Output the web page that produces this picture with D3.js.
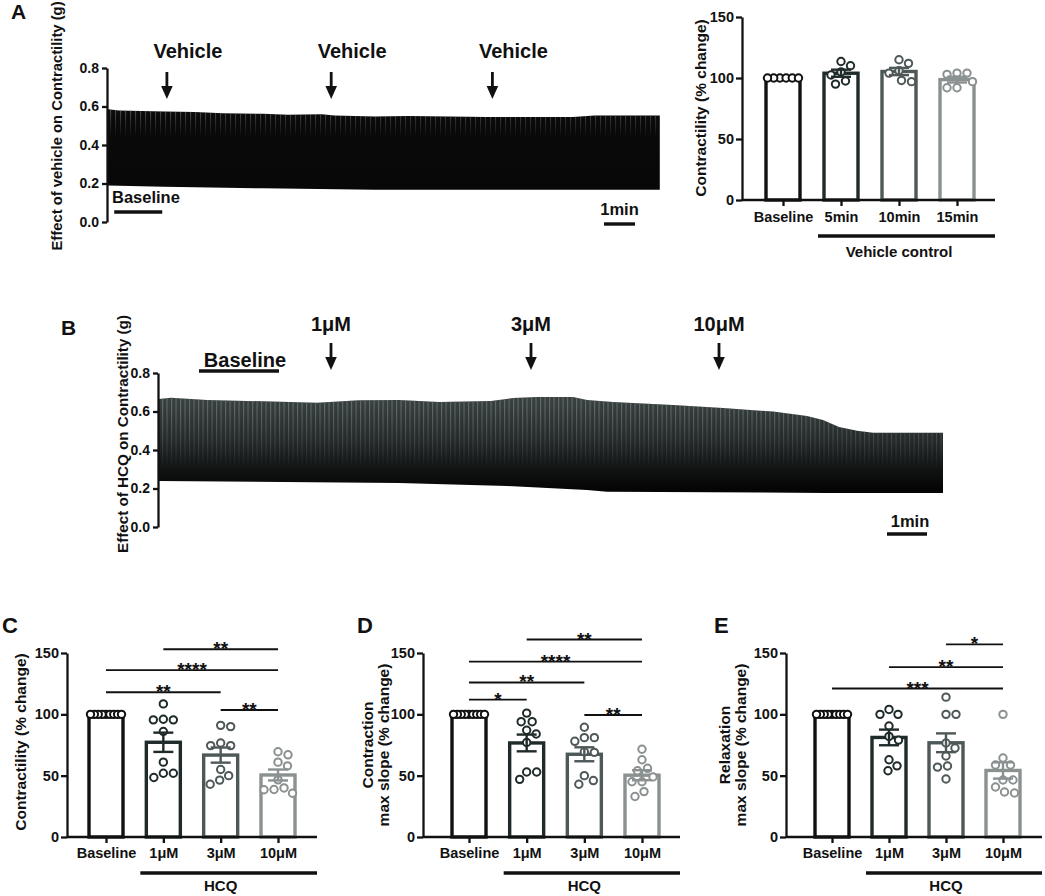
<!DOCTYPE html>
<html>
<head>
<meta charset="utf-8">
<script src="https://cdn.jsdelivr.net/npm/d3@7"></script>
<style>
  body { margin: 0; background: #fff; }
  svg text { font-family: "Liberation Sans", Arial, sans-serif; font-weight: bold; fill: #111; }
</style>
</head>
<body>
<svg id="fig" width="1045" height="896"></svg>
<script>
// ---------- data ----------
// A, vehicle recording: envelope of the twitches (g) against time (min)
const vehTopTime = [0, 0.35, 1.8, 2.8, 3.7, 5.0, 5.8, 6.9, 7.3, 8.6, 9.7, 12.2, 15.0, 15.7, 17.8];
const vehTop = [0.586, 0.579, 0.574, 0.571, 0.565, 0.562, 0.557, 0.56, 0.553, 0.548, 0.551, 0.545, 0.545, 0.553, 0.553];
const vehBotTime = [0, 1.8, 5.0, 8.6, 17.8];
const vehBot = [0.19, 0.183, 0.175, 0.167, 0.167];
const vehLabels = ["Vehicle", "Vehicle", "Vehicle"];
const vehAt = [1.9, 7.2, 12.4];
const vehBaseline = [0.2, 1.75];
const vehMinute = [16, 17];

// B, HCQ recording
const hcqTopTime = [0, 0.3, 1.2, 2.2, 3.95, 5.0, 6.0, 7.0, 8.3, 8.85, 9.45, 10.35, 10.7, 11.35, 12.85, 14.1, 15.35, 16.2, 16.6, 17.0, 17.45, 17.85, 19.6];
const hcqTop = [0.665, 0.672, 0.66, 0.655, 0.645, 0.658, 0.66, 0.649, 0.655, 0.67, 0.675, 0.675, 0.66, 0.649, 0.634, 0.618, 0.6, 0.577, 0.556, 0.52, 0.5, 0.49, 0.49];
const hcqBotTime = [0, 6.0, 8.7, 10.7, 11.2, 16.7, 19.6];
const hcqBot = [0.239, 0.228, 0.213, 0.192, 0.183, 0.177, 0.177];
const doseLabels = ["1\u03bcM", "3\u03bcM", "10\u03bcM"];
const doseAt = [4.3, 9.3, 14.0];
const hcqBaseline = [1.0, 3.0];
const hcqMinute = [18.2, 19.2];

const traceTicks = [0, 0.2, 0.4, 0.6, 0.8];

// bar panels (% change)
const vehCats = ["Baseline", "5min", "10min", "15min"];
const vehPts = [
  [100, 100, 100, 100, 100, 100],
  [110, 113.5, 102.5, 105, 95, 97.5],
  [112, 115, 106, 104, 97, 98],
  [104, 104, 103, 97, 92, 92]
];
const hcqCats = ["Baseline", "1\u03bcM", "3\u03bcM", "10\u03bcM"];
const contractPts = [
  [100, 100, 100, 100, 100, 100, 100, 100, 100],
  [108.5, 96, 95.5, 95.5, 86, 61, 48.5, 52, 52],
  [90, 91, 74.5, 74.5, 76.6, 55, 43, 50, 46.4],
  [69.5, 67, 61, 58, 46.6, 40, 35.7, 38.7, 38.5]
];
const contractSlopePts = [
  [100, 100, 100, 100, 100, 100, 100, 100, 100],
  [101, 94, 94, 87, 84, 77, 53, 53, 47],
  [89.5, 78, 81, 81, 69.5, 69, 43, 50, 46],
  [71.5, 63, 56, 54, 49, 45, 45, 33, 37]
];
const relaxSlopePts = [
  [100, 100, 100, 100, 100, 100, 100, 100, 100],
  [100, 104, 100, 90.5, 82, 79, 63, 54, 58],
  [114, 100, 100, 76.6, 72.5, 66, 57.9, 57, 47.3],
  [100, 64.4, 58.7, 58.7, 46.5, 46.5, 40.8, 35.9, 36.7]
];
const barTicks = [0, 50, 100, 150];

// significance: [from, to, level (% change), stars]
const sigC = [["1\u03bcM", "10\u03bcM", 153, "**"], ["Baseline", "10\u03bcM", 136, "****"], ["Baseline", "3\u03bcM", 118, "**"], ["3\u03bcM", "10\u03bcM", 103.5, "**"]];
const sigD = [["1\u03bcM", "10\u03bcM", 161, "**"], ["Baseline", "10\u03bcM", 143, "****"], ["Baseline", "3\u03bcM", 126, "**"], ["Baseline", "1\u03bcM", 112, "*"], ["3\u03bcM", "10\u03bcM", 99.5, "**"]];
const sigE = [["3\u03bcM", "10\u03bcM", 157, "*"], ["1\u03bcM", "10\u03bcM", 138.5, "**"], ["Baseline", "10\u03bcM", 121, "***"]];

const cols = ["#111111", "#1f2b2a", "#4f5858", "#8b9090"];
const FONT = '"Liberation Sans", Arial, sans-serif';

const svg = d3.select("#fig");
const defs = svg.append("defs");

function styleAxis(sel, fs) {
  sel.attr("font-family", FONT).attr("font-weight", "bold").attr("font-size", fs);
  sel.select(".domain").attr("stroke", "#111").attr("stroke-width", 2.3);
  sel.selectAll(".tick line").attr("stroke", "#111").attr("stroke-width", 2.3);
  sel.selectAll(".tick text").attr("fill", "#111");
}

function arrow(g, ax, y0, y1, y2) {
  g.append("line").attr("x1", ax).attr("x2", ax).attr("y1", y0).attr("y2", y1 + 1)
    .attr("stroke", "#111").attr("stroke-width", 2.8);
  g.append("path").attr("d", `M${ax - 5.8},${y1}L${ax + 5.8},${y1}L${ax},${y2}Z`).attr("fill", "#111");
}

// ---------- trace panels ----------
function tracePanel(o) {
  const g = svg.append("g");
  const tEnd = o.topTime[o.topTime.length - 1];
  const x = d3.scaleLinear().domain([0, tEnd]).range([o.x0, o.x0 + tEnd * o.pxMin]);
  const y = d3.scaleLinear().domain([0, 0.8]).range([o.yZero, o.yTop]);

  const outline = o.topTime.map((t, i) => [x(t), y(o.top[i])])
    .concat(o.botTime.map((t, i) => [x(t), y(o.bot[i])]).reverse());
  const d = d3.line()(outline) + "Z";

  // fill gradient
  const gr = defs.append("linearGradient").attr("id", o.id + "fill")
    .attr("gradientUnits", "userSpaceOnUse").attr("x1", 0).attr("x2", 0)
    .attr("y1", y(0.66)).attr("y2", y(0.2));
  o.fillStops.forEach(s => gr.append("stop").attr("offset", s[0]).attr("stop-color", s[1]));

  // vertical twitch streaks
  const pat = defs.append("pattern").attr("id", o.id + "pat").attr("patternUnits", "userSpaceOnUse")
    .attr("width", o.step).attr("height", 10);
  pat.append("rect").attr("width", 1.1).attr("height", 10).attr("fill", o.streak);
  const mg = defs.append("linearGradient").attr("id", o.id + "mg")
    .attr("gradientUnits", "userSpaceOnUse").attr("x1", 0).attr("x2", 0)
    .attr("y1", y(o.streakFrom)).attr("y2", y(o.streakTo));
  mg.append("stop").attr("offset", 0).attr("stop-color", "#fff").attr("stop-opacity", o.streakOp);
  mg.append("stop").attr("offset", 1).attr("stop-color", "#fff").attr("stop-opacity", 0);
  defs.append("mask").attr("id", o.id + "mask").attr("maskUnits", "userSpaceOnUse")
    .attr("x", 0).attr("y", 0).attr("width", 1045).attr("height", 896)
    .append("rect").attr("x", 0).attr("y", 0).attr("width", 1045).attr("height", 896)
    .attr("fill", `url(#${o.id}mg)`);

  g.append("path").attr("d", d).attr("fill", `url(#${o.id}fill)`);
  g.append("path").attr("d", d).attr("fill", `url(#${o.id}pat)`).attr("mask", `url(#${o.id}mask)`);

  const ya = g.append("g").attr("transform", `translate(${o.x0 - 1},0)`)
    .call(d3.axisLeft(y).tickValues(traceTicks).tickFormat(d3.format(".1f")).tickSize(5).tickSizeOuter(0).tickPadding(o.tickPad));
  styleAxis(ya, 14);

  g.append("text").attr("transform", `translate(${o.titleX},${o.titleY}) rotate(-90)`)
    .attr("text-anchor", "middle").attr("font-size", o.titleFs).text(o.title);

  // drug additions
  o.at.forEach((t, i) => {
    arrow(g, x(t), o.arrowY[0], o.arrowY[1], o.arrowY[2]);
    g.append("text").attr("x", x(t) + o.labelDx).attr("y", o.labelY)
      .attr("text-anchor", "middle").attr("font-size", 20).text(o.labels[i]);
  });

  // baseline bar
  g.append("line").attr("x1", x(o.baseline[0])).attr("x2", x(o.baseline[1]))
    .attr("y1", o.baseY).attr("y2", o.baseY).attr("stroke", "#111").attr("stroke-width", 3.4);
  g.append("text").attr("x", o.baseTextX).attr("y", o.baseTextY).attr("text-anchor", o.baseAnchor)
    .attr("font-size", o.baseFs).text("Baseline");

  // time scale bar
  g.append("line").attr("x1", x(o.minute[0])).attr("x2", x(o.minute[1]))
    .attr("y1", o.minY).attr("y2", o.minY).attr("stroke", "#111").attr("stroke-width", 3.4);
  g.append("text").attr("x", (x(o.minute[0]) + x(o.minute[1])) / 2 + o.minDx).attr("y", o.minTextY)
    .attr("text-anchor", "middle").attr("font-size", 16.5).text("1min");

  svg.append("text").attr("x", o.letter[0]).attr("y", o.letter[1]).attr("font-size", 21).text(o.letter[2]);
}

tracePanel({
  id: "A", topTime: vehTopTime, top: vehTop, botTime: vehBotTime, bot: vehBot,
  x0: 108, pxMin: 31, yZero: 222, yTop: 68, tickPad: 3,
  fillStops: [[0, "#121313"], [0.25, "#0a0a0a"], [1, "#080808"]],
  step: 5, streak: "#6b7070", streakFrom: 0.58, streakTo: 0.44, streakOp: 0.65,
  title: "Effect of vehicle on Contractility (g)", titleX: 62, titleY: 126, titleFs: 14.8,
  at: vehAt, labels: vehLabels, arrowY: [72, 86, 99], labelDx: 21, labelY: 58,
  baseline: vehBaseline, baseY: 212, baseTextX: 112, baseTextY: 203, baseAnchor: "start", baseFs: 16.5,
  minute: vehMinute, minY: 224, minTextY: 215, minDx: 0,
  letter: [11, 19, "A"]
});

tracePanel({
  id: "B", topTime: hcqTopTime, top: hcqTop, botTime: hcqBotTime, bot: hcqBot,
  x0: 159, pxMin: 40, yZero: 527, yTop: 373, tickPad: 3,
  fillStops: [[0, "#394040"], [0.45, "#252a2a"], [1, "#050505"]],
  step: 4.5, streak: "#6c7676", streakFrom: 0.62, streakTo: 0.3, streakOp: 0.8,
  title: "Effect of HCQ on Contractility (g)", titleX: 128, titleY: 434, titleFs: 15.2,
  at: doseAt, labels: doseLabels, arrowY: [343, 357, 370], labelDx: 0, labelY: 331,
  baseline: hcqBaseline, baseY: 371, baseTextX: 245, baseTextY: 367, baseAnchor: "middle", baseFs: 20,
  minute: hcqMinute, minY: 534, minTextY: 527, minDx: 3,
  letter: [61, 335, "B"]
});

// ---------- bar panels ----------
function swarm(vals, y, minDist, maxHalf) {
  const placed = [];
  const off = new Array(vals.length);
  const order = vals.map((v, i) => i).sort((a, b) => vals[b] - vals[a]);
  order.forEach(i => {
    const py = y(vals[i]);
    for (let k = 0; k < 400; k++) {
      const dx = (k % 2 ? 1 : -1) * Math.ceil(k / 2) * 0.5;
      const ok = placed.every(p => (p[0] - dx) ** 2 + (p[1] - py) ** 2 >= minDist * minDist);
      if (ok) { off[i] = dx; placed.push([dx, py]); break; }
    }
  });
  const lo = d3.min(off), hi = d3.max(off);
  if (hi - lo > 2 * maxHalf) {
    const mid = (hi + lo) / 2, k = (2 * maxHalf) / (hi - lo);
    return off.map(v => (v - mid) * k);
  }
  return off;
}

function barPanel(o) {
  const g = svg.append("g");
  const y = d3.scaleLinear().domain([0, 150]).range([o.yZero, o.yTop]);
  const x = d3.scalePoint().domain(o.cats).range([o.c0, o.c1]);
  const bw = 34;

  const stats = o.pts.map((p, i) => ({
    cat: o.cats[i], p: p, col: cols[i],
    m: d3.mean(p), s: d3.deviation(p) / Math.sqrt(p.length)
  }));

  stats.forEach(st => {
    g.append("rect").attr("x", x(st.cat) - bw / 2).attr("y", y(st.m))
      .attr("width", bw).attr("height", y(0) - y(st.m))
      .attr("fill", "#fff").attr("stroke", st.col).attr("stroke-width", 3.4);
  });

  stats.forEach(st => {
    const off = swarm(st.p, y, 10, 15.5);
    g.selectAll(null).data(st.p).enter().append("circle")
      .attr("cx", (d, i) => x(st.cat) + off[i]).attr("cy", d => y(d)).attr("r", 3.7)
      .attr("fill", "#fff").attr("stroke", st.col).attr("stroke-width", 2);
  });

  stats.forEach(st => {
    if (!(st.s > 0)) return;
    const cx = x(st.cat);
    const eg = g.append("g").attr("stroke", st.col).attr("stroke-width", 2.4);
    eg.append("line").attr("x1", cx).attr("x2", cx).attr("y1", y(st.m - st.s)).attr("y2", y(st.m + st.s));
    [st.m - st.s, st.m + st.s].forEach(v => eg.append("line")
      .attr("x1", cx - 10).attr("x2", cx + 10).attr("y1", y(v)).attr("y2", y(v)));
  });

  // significance bars
  (o.sig || []).forEach(s => {
    g.append("line").attr("x1", x(s[0])).attr("x2", x(s[1])).attr("y1", y(s[2])).attr("y2", y(s[2]))
      .attr("stroke", "#111").attr("stroke-width", 1.9);
    g.append("text").attr("x", (x(s[0]) + x(s[1])) / 2).attr("y", y(s[2]) + 6)
      .attr("text-anchor", "middle").attr("font-size", 19).text(s[3]);
  });

  const ya = g.append("g").attr("transform", `translate(${o.ax},0)`)
    .call(d3.axisLeft(y).tickValues(barTicks).tickSize(6).tickSizeOuter(0).tickPadding(2));
  styleAxis(ya, 14.5);
  const xa = g.append("g").attr("transform", `translate(0,${o.yZero})`)
    .call(d3.axisBottom(x).tickSize(6).tickSizeOuter(0).tickPadding(o.labPad));
  styleAxis(xa, 14.5);
  xa.select(".domain").attr("d", `M${o.ax},0H${o.xEnd}`);

  // group underline
  g.append("line").attr("x1", x(o.cats[1]) - 23).attr("x2", o.xEnd)
    .attr("y1", o.yZero + 36).attr("y2", o.yZero + 36).attr("stroke", "#111").attr("stroke-width", 3.4);
  g.append("text").attr("x", x(o.cats[2])).attr("y", o.groupY)
    .attr("text-anchor", "middle").attr("font-size", 15).text(o.group);

  // y title
  const t = g.append("text").attr("text-anchor", "middle").attr("font-size", 15.5);
  o.title.forEach((line, i) => {
    t.append("tspan").attr("x", 0).attr("dy", i ? 15.5 : 0).text(line);
  });
  t.attr("transform", `translate(${o.titleX},${o.titleY}) rotate(-90)`);

  if (o.letter) svg.append("text").attr("x", o.letter[0]).attr("y", o.letter[1]).attr("font-size", 22).text(o.letter[2]);
}

barPanel({
  cats: vehCats, pts: vehPts, ax: 742, xEnd: 995, c0: 783, c1: 957, yZero: 200, yTop: 17,
  labPad: 6, group: "Vehicle control", groupY: 257, title: ["Contractility (% change)"], titleX: 706, titleY: 108
});
barPanel({
  cats: hcqCats, pts: contractPts, sig: sigC, ax: 67, xEnd: 317, c0: 106, c1: 278, yZero: 837, yTop: 653,
  labPad: 5, group: "HCQ", groupY: 891, title: ["Contractility (% change)"], titleX: 26, titleY: 742,
  letter: [2, 633, "C"]
});
barPanel({
  cats: hcqCats, pts: contractSlopePts, sig: sigD, ax: 423, xEnd: 680, c0: 469, c1: 642, yZero: 837, yTop: 653,
  labPad: 5, group: "HCQ", groupY: 891, title: ["Contraction", "max slope (% change)"], titleX: 373, titleY: 745,
  letter: [357, 633, "D"]
});
barPanel({
  cats: hcqCats, pts: relaxSlopePts, sig: sigE, ax: 786, xEnd: 1042, c0: 832, c1: 1003, yZero: 837, yTop: 653,
  labPad: 5, group: "HCQ", groupY: 891, title: ["Relaxation", "max slope (% change)"], titleX: 730, titleY: 745,
  letter: [714, 633, "E"]
});
</script>
</body>
</html>
